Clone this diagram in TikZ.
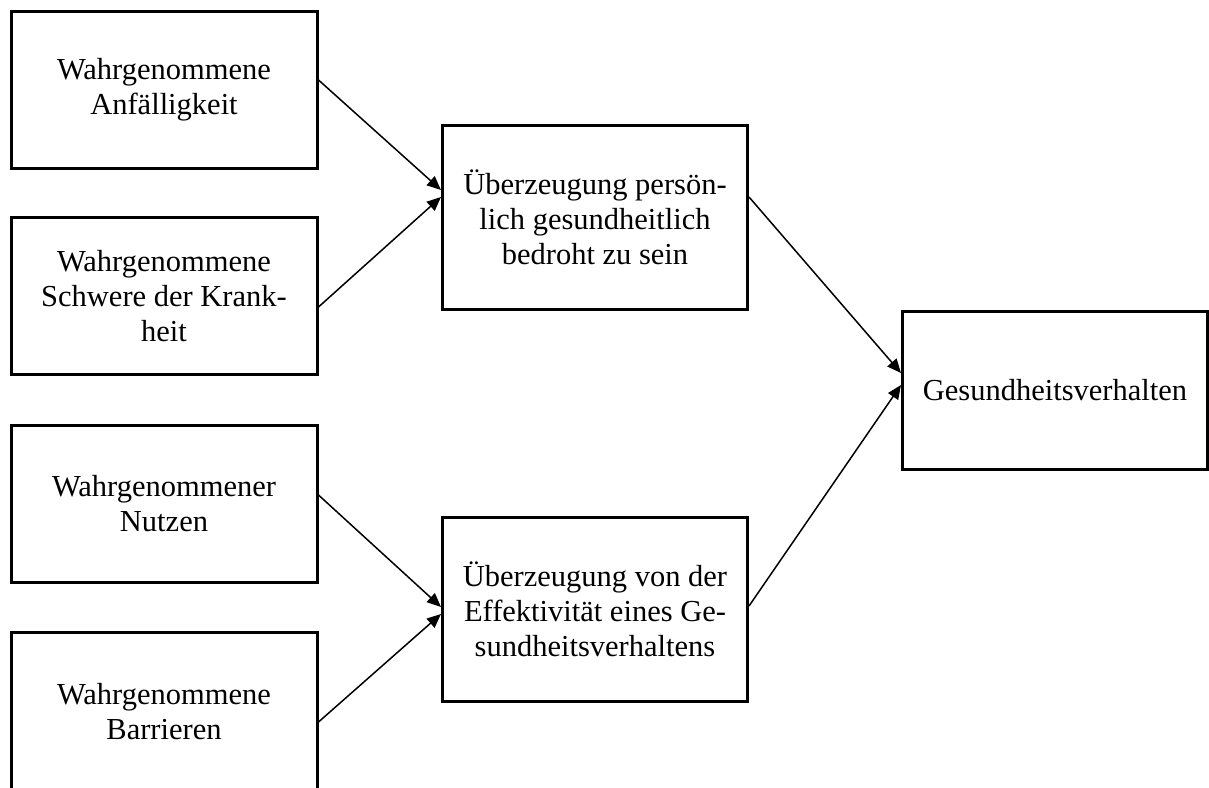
\documentclass[tikz,border=0pt]{standalone}
\usepackage{fontspec}
\setmainfont{Liberation Serif}
\usetikzlibrary{arrows.meta}
\begin{document}
\begin{tikzpicture}[x=1pt,y=-1pt,
  box/.style={draw=black, line width=3pt, rectangle, align=center, inner sep=0pt,
    font=\fontsize{30.5}{35}\selectfont},
  lbox/.style={box, minimum width=306pt, minimum height=157pt},
  mbox/.style={box, minimum width=305pt, minimum height=184pt},
  rbox/.style={box, minimum width=305pt, minimum height=158pt},
  conn/.style={line width=1.5pt, -{Triangle[length=14pt,width=12pt]}}]
\useasboundingbox (0,0) rectangle (1209,787);
\clip (0,0) rectangle (1209,787);
\node[lbox] (b1) at (164,90) {Wahrgenommene\\Anfälligkeit};
\node[lbox] (b2) at (164,296) {Wahrgenommene\\Schwere der Krank-\\heit};
\node[lbox] (b3) at (164,504) {Wahrgenommener\\Nutzen};
\node[lbox,minimum height=159pt] (b4) at (164,712) {Wahrgenommene\\Barrieren};
\node[mbox] (m1) at (595,217.5) {Überzeugung persön-\\lich gesundheitlich\\bedroht zu sein};
\node[mbox] (m2) at (595,609.5) {Überzeugung von der\\Effektivität eines Ge-\\sundheitsverhaltens};
\node[rbox] (r) at (1055,390) {Gesundheitsverhalten};
\coordinate (s1) at ([yshift=10pt]b1.east);
\coordinate (s2) at ([yshift=-11pt]b2.east);
\coordinate (s3) at ([yshift=9pt]b3.east);
\coordinate (s4) at ([yshift=-10pt]b4.east);
\coordinate (t1) at ([yshift=27.5pt]m1.west);
\coordinate (t2) at ([yshift=20.5pt]m1.west);
\coordinate (t3) at ([yshift=2.5pt]m2.west);
\coordinate (t4) at ([yshift=-4.5pt]m2.west);
\coordinate (p1) at ([yshift=20.5pt]m1.east);
\coordinate (p2) at ([yshift=3.5pt]m2.east);
\coordinate (u1) at ([yshift=17pt]r.west);
\coordinate (u2) at ([yshift=5pt]r.west);
\draw[conn] (s1) -- (t1);
\draw[conn] (s2) -- (t2);
\draw[conn] (s3) -- (t3);
\draw[conn] (s4) -- (t4);
\draw[conn] (p1) -- (u1);
\draw[conn] (p2) -- (u2);
\end{tikzpicture}
\end{document}
